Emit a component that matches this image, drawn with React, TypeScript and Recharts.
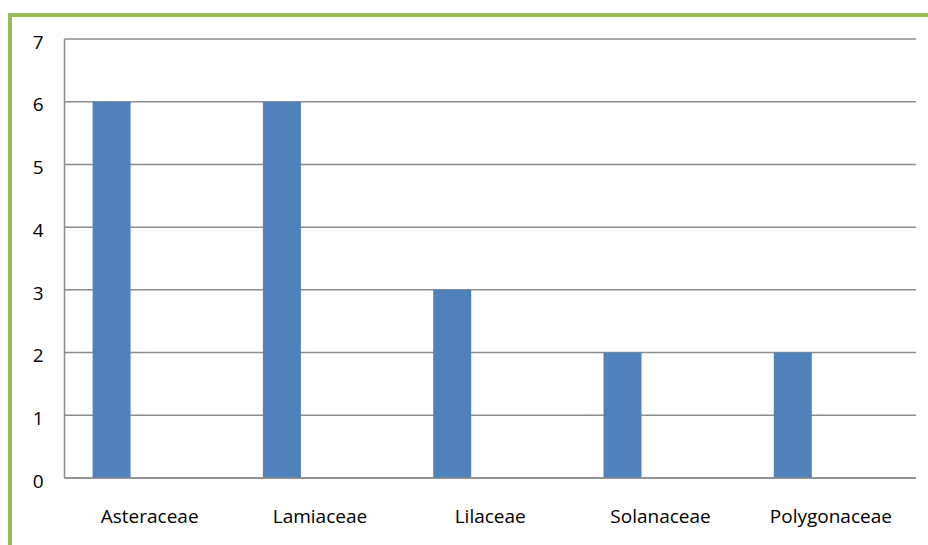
import { BarChart, Bar, XAxis, YAxis, CartesianGrid } from "recharts";

const families = ["Asteraceae", "Lamiaceae", "Lilaceae", "Solanaceae", "Polygonaceae"];
const counts = [6, 6, 3, 2, 2];
const yTicks = [0, 1, 2, 3, 4, 5, 6, 7];

// the original sheet reserves two more (empty) series slots per category
const data = families.map((name, i) => ({
  name,
  count: counts[i],
  empty1: null,
  empty2: null,
}));

const font = "'Open Sans', 'Noto Sans', sans-serif";

export default function App() {
  return (
    <div style={{ position: "absolute", left: 0, top: 0, width: 928, height: 545, background: "#fff" }}>
      <div
        style={{
          position: "absolute",
          left: 8,
          top: 13,
          width: 920,
          height: 532,
          boxSizing: "border-box",
          borderLeft: "4px solid #9BBB59",
          borderTop: "4px solid #9BBB59",
        }}
      />
      <div style={{ position: "absolute", left: 0, top: 0 }}>
        <BarChart
          width={928}
          height={545}
          data={data}
          margin={{ top: 39, right: 12, left: 0.5, bottom: 0 }}
          barCategoryGap="16.5%"
          barGap={0}
        >
          <CartesianGrid vertical={false} stroke="#8c8c8c" strokeWidth={1.5} />
          <XAxis
            dataKey="name"
            height={67}
            tickLine={false}
            tickSize={0}
            tickMargin={32}
            axisLine={{ stroke: "#8c8c8c", strokeWidth: 1.5 }}
            tick={{ fontSize: 19, fill: "#000", fontFamily: font }}
            interval={0}
          />
          <YAxis
            width={64}
            domain={[0, 7]}
            ticks={yTicks}
            interval={0}
            tickLine={false}
            tickSize={0}
            tickMargin={21}
            axisLine={{ stroke: "#8c8c8c", strokeWidth: 1.5 }}
            tick={{ fontSize: 19, fill: "#000", fontFamily: font, dy: 3 }}
          />
          <Bar dataKey="count" fill="#4F81BD" isAnimationActive={false} />
          <Bar dataKey="empty1" fill="#C0504D" isAnimationActive={false} />
          <Bar dataKey="empty2" fill="#9BBB59" isAnimationActive={false} />
        </BarChart>
      </div>
    </div>
  );
}
